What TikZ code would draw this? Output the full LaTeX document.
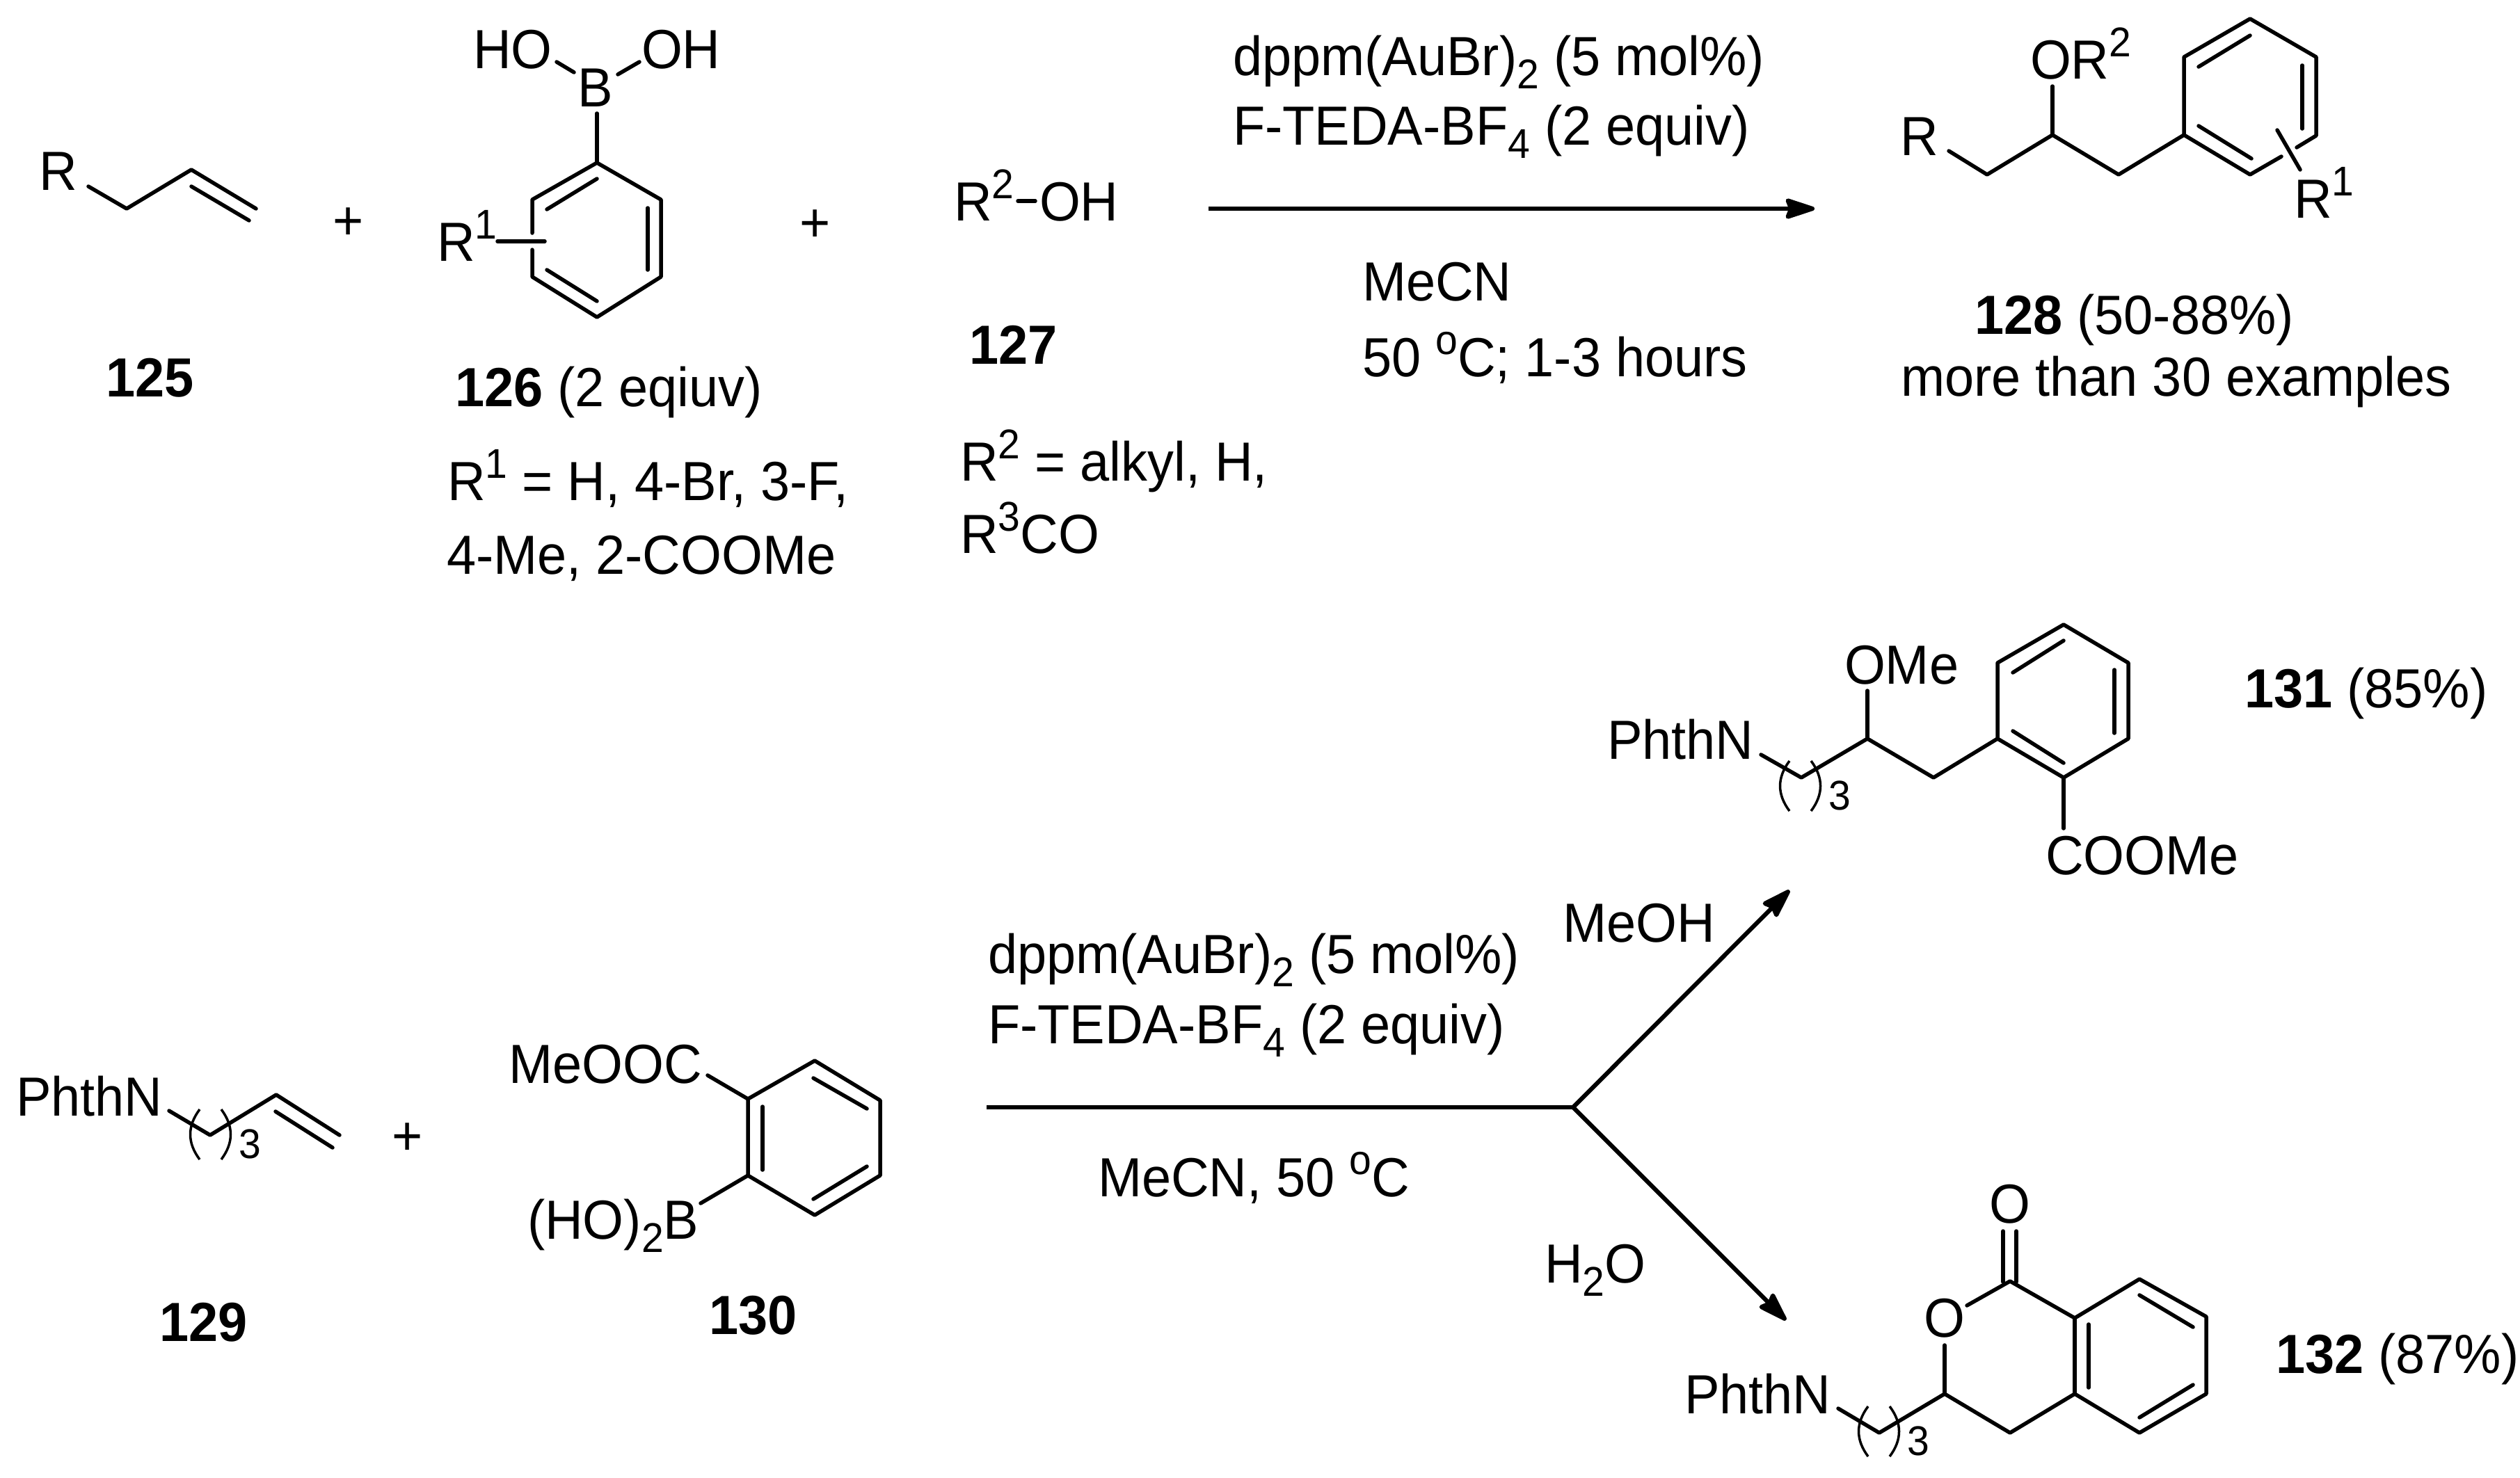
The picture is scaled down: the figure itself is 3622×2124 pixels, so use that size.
\documentclass[tikz,border=0pt]{standalone}
\usepackage{fontspec}
\setmainfont[FakeStretch=0.955]{Liberation Sans}
\usetikzlibrary{arrows.meta}
\newcommand{\sps}[1]{\raisebox{0.40em}{\fontsize{17pt}{17pt}\selectfont #1}}
\newcommand{\sbs}[1]{\raisebox{-0.24em}{\fontsize{17pt}{17pt}\selectfont #1}}
\tikzset{
  x=0.01cm,y=-0.01cm,
  txt/.style={anchor=base west,inner sep=0pt,outer sep=0pt,font=\fontsize{22.55pt}{24pt}\selectfont},
  btxt/.style={txt,font=\fontsize{22.55pt}{24pt}\selectfont\bfseries},
  sub/.style={anchor=base west,inner sep=0pt,outer sep=0pt,font=\fontsize{17pt}{17pt}\selectfont},
  bond/.style={line width=0.055cm,line cap=round,line join=round,black},
  paren/.style={line width=0.035cm,black},
  rxn/.style={line width=0.062cm,black},
  rxnarrow/.style={rxn,-{Stealth[length=0.50cm,width=0.32cm,inset=0.06cm,round]}}
}
% bracket pair with a subscript 3 around a chain link: left x, top y
\newcommand{\chainparen}[3]{%
  \draw[paren] (#1+15,#2) .. controls (#1-3,#2+24) and (#1-3,#2+48) .. (#1+15,#2+72);
  \draw[paren] (#1+46,#2) .. controls (#1+64,#2+24) and (#1+64,#2+48) .. (#1+46,#2+72);
  \node[sub] (#3) at (#1+71,#2+70) {3};
}
\begin{document}
\begin{tikzpicture}
\useasboundingbox (0,0) rectangle (3622,2124);
\fill[white] (0,0) rectangle (3622,2124);

% ---------- 125 ----------
\node[txt] (R125) at (56,273) {R};
\coordinate (a1) at (127,268); \coordinate (a2) at (182,300); \coordinate (a3) at (275,244);
\coordinate (a4) at (368,300); \coordinate (a5) at (275,268); \coordinate (a6) at (358,317);
\draw[bond] (a1)--(a2)--(a3)--(a4);
\draw[bond] (a5)--(a6);
\node[txt] (plus1) at (478,344) {+};
\node[btxt] (l125) at (152,570) {125};

% ---------- 126 ----------
\node[txt] (HO) at (680,98) {HO};
\node[txt] (OH) at (922,98) {OH};
\node[txt] (B) at (830,153) {B};
\coordinate (b1) at (800,89); \coordinate (b2) at (825,104);
\coordinate (b3) at (919,89); \coordinate (b4) at (888,107);
\coordinate (b5) at (858,163);
\coordinate (c1) at (858,234); \coordinate (c2) at (765,287); \coordinate (c3) at (765,335);
\coordinate (c4) at (765,359); \coordinate (c5) at (765,398); \coordinate (c6) at (858,456);
\coordinate (c7) at (950,398); \coordinate (c8) at (950,287);
\draw[bond] (b1)--(b2);
\draw[bond] (b3)--(b4);
\draw[bond] (b5)--(c1);
\draw[bond] (c3)--(c2)--(c1)--(c8)--(c7)--(c6)--(c5)--(c4);
\coordinate (d1) at (786,301); \coordinate (d2) at (858,257);
\coordinate (d3) at (931,299); \coordinate (d4) at (931,388);
\coordinate (d5) at (786,388); \coordinate (d6) at (858,433);
\draw[bond] (d1)--(d2); \draw[bond] (d3)--(d4); \draw[bond] (d5)--(d6);
\coordinate (e1) at (715,347); \coordinate (e2) at (783,347);
\draw[bond] (e1)--(e2);
\node[txt] (R1a) at (628,375) {R\sps{1}};
\node[txt] (plus2) at (1149,347) {+};
\node[txt] (l126) at (654,584) {\textbf{126} (2 eqiuv)};
\node[txt] (r1a) at (643,719) {R\sps{1} = H, 4-Br, 3-F,};
\node[txt] (r1b) at (642,825) {4-Me, 2-COOMe};

% ---------- 127 ----------
\node[txt] (R2) at (1371,317) {R\sps{2}};
\node[txt] (OHb) at (1494,317) {OH};
\coordinate (w1) at (1463,289); \coordinate (w2) at (1488,289);
\draw[bond] (w1)--(w2);
\node[btxt] (l127) at (1393,523) {127};
\node[txt] (r2a) at (1380,691) {R\sps{2} = alkyl, H,};
\node[txt] (r2b) at (1380,795) {R\sps{3}CO};

% ---------- top conditions and arrow ----------
\node[txt] (c1a) at (1772,108.5) {dppm(AuBr)\sbs{2} (5 mol\%)};
\node[txt] (c1b) at (1772,208) {F-TEDA-BF\sbs{4} (2 equiv)};
\node[txt] (c1c) at (1958,432) {MeCN};
\node[txt] (c1d) at (1958,541) {50 \sps{o}C; 1-3 hours};
\coordinate (ar1) at (1737,300); \coordinate (ar2) at (2608,300);
\draw[rxnarrow] (ar1)--(ar2);

% ---------- 128 ----------
\node[txt] (R128) at (2731,223) {R};
\node[txt] (OR2) at (2918,113) {OR\sps{2}};
\coordinate (f1) at (2801,217); \coordinate (f2) at (2856,251); \coordinate (f3) at (2950,194);
\coordinate (f4) at (3045,251); \coordinate (f5) at (3139,194); \coordinate (f6) at (2950,124);
\draw[bond] (f1)--(f2)--(f3)--(f4)--(f5);
\draw[bond] (f6)--(f3);
\coordinate (g1) at (3139,82); \coordinate (g2) at (3234,27); \coordinate (g3) at (3329,82);
\coordinate (g4) at (3329,195); \coordinate (g5) at (3301,212); \coordinate (g6) at (3279,225);
\coordinate (g7) at (3234,251);
\draw[bond] (g5)--(g4)--(g3)--(g2)--(g1)--(f5)--(g7)--(g6);
\coordinate (h1) at (3160,96); \coordinate (h2) at (3234,51);
\coordinate (h3) at (3309,94); \coordinate (h4) at (3309,185);
\coordinate (h5) at (3160,181); \coordinate (h6) at (3236,228);
\draw[bond] (h1)--(h2); \draw[bond] (h3)--(h4); \draw[bond] (h5)--(h6);
\coordinate (h7) at (3273,187); \coordinate (h8) at (3306,244);
\draw[bond] (h7)--(h8);
\node[txt] (R1c) at (3297,313) {R\sps{1}};
\node[txt] (l128) at (2838,480) {\textbf{128} (50-88\%)};
\node[txt] (more) at (2732,569) {more than 30 examples};

% ---------- 129 ----------
\node[txt] (P129) at (23,1604) {PhthN};
\coordinate (i1) at (243,1597); \coordinate (i2) at (302,1632); \coordinate (i3) at (397,1574);
\coordinate (i4) at (488,1632); \coordinate (i5) at (396,1598); \coordinate (i6) at (478,1650);
\draw[bond] (i1)--(i2)--(i3)--(i4);
\draw[bond] (i5)--(i6);
\chainparen{272}{1595}{s129}
\node[txt] (plus3) at (563,1660) {+};
\node[btxt] (l129) at (229,1928) {129};

% ---------- 130 ----------
\node[txt] (MeOOC) at (731,1557) {MeOOC};
\node[txt] (HOB) at (758,1781) {(HO)\sbs{2}B};
\coordinate (j1) at (1017,1546); \coordinate (j2) at (1075,1580); \coordinate (j3) at (1171,1525);
\coordinate (j4) at (1265,1582); \coordinate (j5) at (1265,1690); \coordinate (j6) at (1171,1747);
\coordinate (j7) at (1075,1690); \coordinate (j8) at (1007,1730);
\draw[bond] (j1)--(j2);
\draw[bond] (j7)--(j8);
\draw[bond] (j2)--(j3)--(j4)--(j5)--(j6)--(j7)--cycle;
\coordinate (k1) at (1096,1591); \coordinate (k2) at (1096,1682);
\coordinate (k3) at (1169,1550); \coordinate (k4) at (1246,1594);
\coordinate (k5) at (1246,1677); \coordinate (k6) at (1169,1724);
\draw[bond] (k1)--(k2); \draw[bond] (k3)--(k4); \draw[bond] (k5)--(k6);
\node[btxt] (l130) at (1019,1918) {130};

% ---------- bottom conditions and arrows ----------
\node[txt] (c2a) at (1420,1399) {dppm(AuBr)\sbs{2} (5 mol\%)};
\node[txt] (c2b) at (1420,1500) {F-TEDA-BF\sbs{4} (2 equiv)};
\node[txt] (c2c) at (1578,1720) {MeCN, 50 \sps{o}C};
\node[txt] (MeOH) at (2246,1354) {MeOH};
\node[txt] (H2O) at (2220,1844) {H\sbs{2}O};
\coordinate (m1) at (1418,1592); \coordinate (m2) at (2261,1592);
\coordinate (m3) at (2572,1280); \coordinate (m4) at (2567,1898);
\draw[rxn] (m1)--(m2);
\draw[rxnarrow] (m2)--(m3);
\draw[rxnarrow] (m2)--(m4);

% ---------- 131 ----------
\node[txt] (P131) at (2310,1091) {PhthN};
\node[txt] (OMe) at (2651,983) {OMe};
\coordinate (n1) at (2531,1085); \coordinate (n2) at (2589,1118); \coordinate (n3) at (2684,1062);
\coordinate (n4) at (2779,1118); \coordinate (n5) at (2871,1062); \coordinate (n6) at (2684,993);
\draw[bond] (n1)--(n2)--(n3)--(n4)--(n5);
\draw[bond] (n6)--(n3);
\chainparen{2557}{1094}{s131}
\coordinate (o1) at (2871,953); \coordinate (o2) at (2966,898); \coordinate (o3) at (3059,953);
\coordinate (o4) at (3059,1062); \coordinate (o5) at (2966,1118); \coordinate (o6) at (2966,1191);
\draw[bond] (n5)--(o1)--(o2)--(o3)--(o4)--(o5)--cycle;
\draw[bond] (o5)--(o6);
\coordinate (p1) at (2893,967); \coordinate (p2) at (2966,921);
\coordinate (p3) at (3039,963); \coordinate (p4) at (3039,1054);
\coordinate (p5) at (2893,1051); \coordinate (p6) at (2966,1097);
\draw[bond] (p1)--(p2); \draw[bond] (p3)--(p4); \draw[bond] (p5)--(p6);
\node[txt] (COOMe) at (2940,1257) {COOMe};
\node[txt] (l131) at (3226,1017) {\textbf{131} (85\%)};

% ---------- 132 ----------
\node[txt] (P132) at (2421,2032) {PhthN};
\node[txt] (Oring) at (2765,1922) {O};
\node[txt] (Oco) at (2859,1758) {O};
\coordinate (q1) at (2642,2025); \coordinate (q2) at (2701,2060); \coordinate (q3) at (2795,2004);
\coordinate (q4) at (2889,2060); \coordinate (q5) at (2982,2004); \coordinate (q6) at (2795,1934);
\coordinate (q7) at (2827,1877); \coordinate (q8) at (2889,1842); \coordinate (q9) at (2982,1895);
\draw[bond] (q1)--(q2)--(q3)--(q4)--(q5);
\draw[bond] (q6)--(q3);
\draw[bond] (q7)--(q8)--(q9);
\draw[bond] (q9)--(q5);
\chainparen{2670}{2022}{s132}
\coordinate (t1) at (3075,1839); \coordinate (t2) at (3171,1893);
\coordinate (t3) at (3171,2004); \coordinate (t4) at (3075,2060);
\draw[bond] (q9)--(t1)--(t2)--(t3)--(t4)--(q5);
\coordinate (u1) at (3002,1904); \coordinate (u2) at (3002,1995);
\coordinate (u3) at (3075,1862); \coordinate (u4) at (3152,1908);
\coordinate (u5) at (3152,1991); \coordinate (u6) at (3075,2038);
\draw[bond] (u1)--(u2); \draw[bond] (u3)--(u4); \draw[bond] (u5)--(u6);
\coordinate (v1) at (2879,1770); \coordinate (v2) at (2879,1843);
\coordinate (v3) at (2898,1770); \coordinate (v4) at (2898,1843);
\draw[bond] (v1)--(v2); \draw[bond] (v3)--(v4);
\node[txt] (l132) at (3271,1974) {\textbf{132} (87\%)};
\end{tikzpicture}
\end{document}
